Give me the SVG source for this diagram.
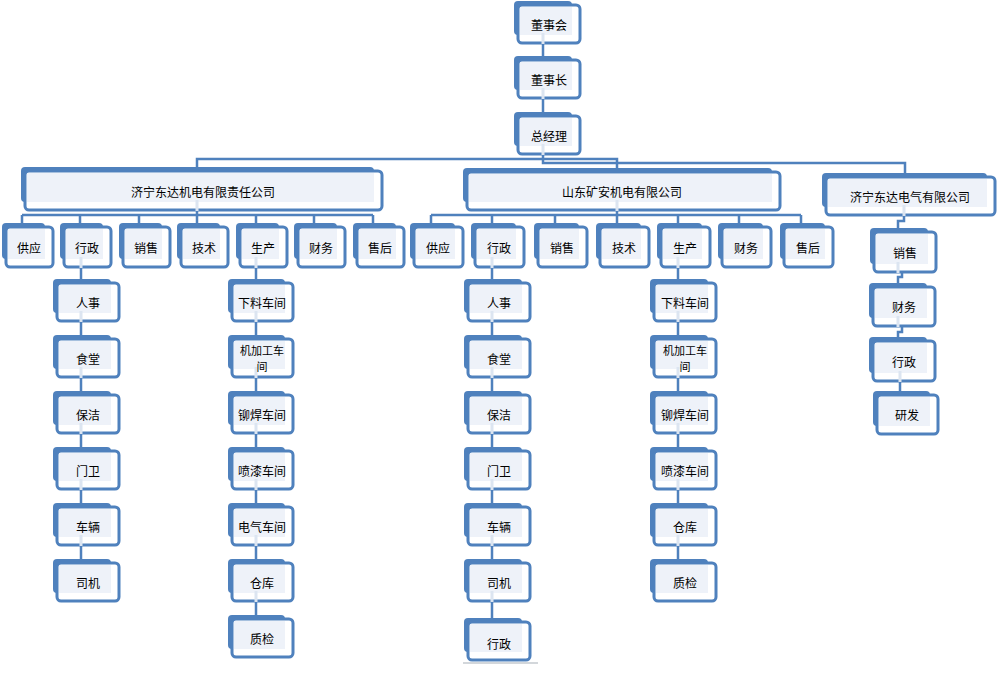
<svg xmlns="http://www.w3.org/2000/svg" width="998" height="681" viewBox="0 0 998 681">
<style>
.bk{fill:#4F81BD}
.fr{fill:#FFFFFF;stroke:#4F81BD;stroke-width:3}
.in{fill:#EEF2F9}
.gp{fill:#DCE5F1}
.t{font-family:"Noto Sans CJK SC","Liberation Sans",sans-serif;font-size:12px;fill:#000;text-anchor:middle;dominant-baseline:central}
.t2{font-size:11px}
.c{fill:none;stroke:#4F81BD;stroke-width:2.5}
</style>
<rect x="0" y="0" width="998" height="681" fill="#FFFFFF"/>
<g id="connectors">
<path class="c" d="M543,43 V56 M543,98 V112 M543,154 V163 H905 V173 M543,159 H197 V167 M543,159 H617 V168"/>
<path class="c" d="M197,210 V215 M22,215 H373 M22,215 V223 M80,215 V223 M139,215 V223 M197,215 V223 M256,215 V223 M314,215 V223 M373,215 V223"/>
<path class="c" d="M617,210 V215 M431,215 H801 M431,215 V223 M492,215 V223 M555,215 V223 M617,215 V223 M678,215 V223 M739,215 V223 M801,215 V223"/>
<path class="c" d="M81,262 V563 M256,262 V619 M492,262 V622 M678,262 V563"/>
<path class="c" d="M904,212 V221 H898 V229 M902,270 V277 H898 V283 M902,324 V332 H898 V338 M900,379 V391"/>
<path d="M463,663 H538" stroke="#D3D7DB" stroke-width="2"/>
</g>
<g id="n-dongshihui"><rect class="bk" x="514" y="1" width="58" height="34" rx="4"/><rect class="fr" x="518" y="5" width="62" height="38" rx="4"/><rect class="in" x="520" y="7" width="52" height="28"/><rect class="gp" x="541.5" y="33" width="3" height="11"/><text class="t" x="549" y="24">董事会</text></g>
<g id="n-dongshizhang"><rect class="bk" x="514" y="56" width="58" height="34" rx="4"/><rect class="fr" x="518" y="60" width="62" height="38" rx="4"/><rect class="in" x="520" y="62" width="52" height="28"/><rect class="gp" x="541.5" y="88" width="3" height="11"/><text class="t" x="549" y="79">董事长</text></g>
<g id="n-zongjingli"><rect class="bk" x="514" y="112" width="58" height="34" rx="4"/><rect class="fr" x="518" y="116" width="62" height="38" rx="4"/><rect class="in" x="520" y="118" width="52" height="28"/><rect class="gp" x="541.5" y="144" width="3" height="11"/><text class="t" x="549" y="135">总经理</text></g>
<g id="c1"><rect class="bk" x="21" y="167" width="353" height="35" rx="4"/><rect class="fr" x="25" y="171" width="357" height="39" rx="4"/><rect class="in" x="27" y="173" width="347" height="29"/><rect class="gp" x="195.5" y="200" width="3" height="11"/><text class="t" x="203" y="191">济宁东达机电有限责任公司</text></g>
<g id="c2"><rect class="bk" x="463" y="168" width="309" height="34" rx="4"/><rect class="fr" x="467" y="172" width="313" height="38" rx="4"/><rect class="in" x="469" y="174" width="303" height="28"/><rect class="gp" x="615.5" y="200" width="3" height="11"/><text class="t" x="622" y="191">山东矿安机电有限公司</text></g>
<g id="c3"><rect class="bk" x="822" y="173" width="165" height="34" rx="4"/><rect class="fr" x="826" y="177" width="169" height="38" rx="4"/><rect class="in" x="828" y="179" width="159" height="28"/><rect class="gp" x="902.5" y="205" width="3" height="11"/><text class="t" x="910" y="196">济宁东达电气有限公司</text></g>
<g id="d1-gongying"><rect class="bk" x="2" y="223" width="43" height="36" rx="4"/><rect class="fr" x="6" y="227" width="47" height="40" rx="4"/><rect class="in" x="8" y="229" width="37" height="30"/><text class="t" x="29" y="247">供应</text></g>
<g id="d1-xingzheng"><rect class="bk" x="60" y="223" width="43" height="36" rx="4"/><rect class="fr" x="64" y="227" width="47" height="40" rx="4"/><rect class="in" x="66" y="229" width="37" height="30"/><rect class="gp" x="79.5" y="257" width="3" height="11"/><text class="t" x="87" y="247">行政</text></g>
<g id="d1-xiaoshou"><rect class="bk" x="119" y="223" width="43" height="36" rx="4"/><rect class="fr" x="123" y="227" width="47" height="40" rx="4"/><rect class="in" x="125" y="229" width="37" height="30"/><text class="t" x="146" y="247">销售</text></g>
<g id="d1-jishu"><rect class="bk" x="177" y="223" width="43" height="36" rx="4"/><rect class="fr" x="181" y="227" width="47" height="40" rx="4"/><rect class="in" x="183" y="229" width="37" height="30"/><text class="t" x="204" y="247">技术</text></g>
<g id="d1-shengchan"><rect class="bk" x="236" y="223" width="43" height="36" rx="4"/><rect class="fr" x="240" y="227" width="47" height="40" rx="4"/><rect class="in" x="242" y="229" width="37" height="30"/><rect class="gp" x="254.5" y="257" width="3" height="11"/><text class="t" x="263" y="247">生产</text></g>
<g id="d1-caiwu"><rect class="bk" x="294" y="223" width="43" height="36" rx="4"/><rect class="fr" x="298" y="227" width="47" height="40" rx="4"/><rect class="in" x="300" y="229" width="37" height="30"/><text class="t" x="321" y="247">财务</text></g>
<g id="d1-shouhou"><rect class="bk" x="353" y="223" width="43" height="36" rx="4"/><rect class="fr" x="357" y="227" width="47" height="40" rx="4"/><rect class="in" x="359" y="229" width="37" height="30"/><text class="t" x="380" y="247">售后</text></g>
<g id="d2-gongying"><rect class="bk" x="410" y="223" width="45" height="36" rx="4"/><rect class="fr" x="414" y="227" width="49" height="40" rx="4"/><rect class="in" x="416" y="229" width="39" height="30"/><text class="t" x="438" y="247">供应</text></g>
<g id="d2-xingzheng"><rect class="bk" x="471" y="223" width="45" height="36" rx="4"/><rect class="fr" x="475" y="227" width="49" height="40" rx="4"/><rect class="in" x="477" y="229" width="39" height="30"/><rect class="gp" x="490.5" y="257" width="3" height="11"/><text class="t" x="499" y="247">行政</text></g>
<g id="d2-xiaoshou"><rect class="bk" x="534" y="223" width="45" height="36" rx="4"/><rect class="fr" x="538" y="227" width="49" height="40" rx="4"/><rect class="in" x="540" y="229" width="39" height="30"/><text class="t" x="562" y="247">销售</text></g>
<g id="d2-jishu"><rect class="bk" x="596" y="223" width="45" height="36" rx="4"/><rect class="fr" x="600" y="227" width="49" height="40" rx="4"/><rect class="in" x="602" y="229" width="39" height="30"/><text class="t" x="624" y="247">技术</text></g>
<g id="d2-shengchan"><rect class="bk" x="657" y="223" width="45" height="36" rx="4"/><rect class="fr" x="661" y="227" width="49" height="40" rx="4"/><rect class="in" x="663" y="229" width="39" height="30"/><rect class="gp" x="676.5" y="257" width="3" height="11"/><text class="t" x="685" y="247">生产</text></g>
<g id="d2-caiwu"><rect class="bk" x="718" y="223" width="45" height="36" rx="4"/><rect class="fr" x="722" y="227" width="49" height="40" rx="4"/><rect class="in" x="724" y="229" width="39" height="30"/><text class="t" x="746" y="247">财务</text></g>
<g id="d2-shouhou"><rect class="bk" x="780" y="223" width="45" height="36" rx="4"/><rect class="fr" x="784" y="227" width="49" height="40" rx="4"/><rect class="in" x="786" y="229" width="39" height="30"/><text class="t" x="808" y="247">售后</text></g>
<g id="s1-renshi"><rect class="bk" x="53" y="279" width="58" height="34" rx="4"/><rect class="fr" x="57" y="283" width="62" height="38" rx="4"/><rect class="in" x="59" y="285" width="52" height="28"/><rect class="gp" x="79.5" y="311" width="3" height="11"/><text class="t" x="88" y="302">人事</text></g>
<g id="s1-shitang"><rect class="bk" x="53" y="335" width="58" height="34" rx="4"/><rect class="fr" x="57" y="339" width="62" height="38" rx="4"/><rect class="in" x="59" y="341" width="52" height="28"/><rect class="gp" x="79.5" y="367" width="3" height="11"/><text class="t" x="88" y="358">食堂</text></g>
<g id="s1-baojie"><rect class="bk" x="53" y="391" width="58" height="34" rx="4"/><rect class="fr" x="57" y="395" width="62" height="38" rx="4"/><rect class="in" x="59" y="397" width="52" height="28"/><rect class="gp" x="79.5" y="423" width="3" height="11"/><text class="t" x="88" y="414">保洁</text></g>
<g id="s1-menwei"><rect class="bk" x="53" y="447" width="58" height="34" rx="4"/><rect class="fr" x="57" y="451" width="62" height="38" rx="4"/><rect class="in" x="59" y="453" width="52" height="28"/><rect class="gp" x="79.5" y="479" width="3" height="11"/><text class="t" x="88" y="470">门卫</text></g>
<g id="s1-cheliang"><rect class="bk" x="53" y="503" width="58" height="34" rx="4"/><rect class="fr" x="57" y="507" width="62" height="38" rx="4"/><rect class="in" x="59" y="509" width="52" height="28"/><rect class="gp" x="79.5" y="535" width="3" height="11"/><text class="t" x="88" y="526">车辆</text></g>
<g id="s1-siji"><rect class="bk" x="53" y="559" width="58" height="34" rx="4"/><rect class="fr" x="57" y="563" width="62" height="38" rx="4"/><rect class="in" x="59" y="565" width="52" height="28"/><text class="t" x="88" y="582">司机</text></g>
<g id="p1-xialiao"><rect class="bk" x="228" y="279" width="57" height="34" rx="4"/><rect class="fr" x="232" y="283" width="61" height="38" rx="4"/><rect class="in" x="234" y="285" width="51" height="28"/><rect class="gp" x="254.5" y="311" width="3" height="11"/><text class="t" x="262" y="302">下料车间</text></g>
<g id="p1-jijiagong"><rect class="bk" x="228" y="335" width="57" height="34" rx="4"/><rect class="fr" x="232" y="339" width="61" height="38" rx="4"/><rect class="in" x="234" y="341" width="51" height="28"/><rect class="gp" x="254.5" y="367" width="3" height="11"/><text class="t t2" x="262" y="350">机加工车</text><text class="t t2" x="262" y="366">间</text></g>
<g id="p1-maohan"><rect class="bk" x="228" y="391" width="57" height="34" rx="4"/><rect class="fr" x="232" y="395" width="61" height="38" rx="4"/><rect class="in" x="234" y="397" width="51" height="28"/><rect class="gp" x="254.5" y="423" width="3" height="11"/><text class="t" x="262" y="414">铆焊车间</text></g>
<g id="p1-penqi"><rect class="bk" x="228" y="447" width="57" height="34" rx="4"/><rect class="fr" x="232" y="451" width="61" height="38" rx="4"/><rect class="in" x="234" y="453" width="51" height="28"/><rect class="gp" x="254.5" y="479" width="3" height="11"/><text class="t" x="262" y="470">喷漆车间</text></g>
<g id="p1-dianqi"><rect class="bk" x="228" y="503" width="57" height="34" rx="4"/><rect class="fr" x="232" y="507" width="61" height="38" rx="4"/><rect class="in" x="234" y="509" width="51" height="28"/><rect class="gp" x="254.5" y="535" width="3" height="11"/><text class="t" x="262" y="526">电气车间</text></g>
<g id="p1-cangku"><rect class="bk" x="228" y="559" width="57" height="34" rx="4"/><rect class="fr" x="232" y="563" width="61" height="38" rx="4"/><rect class="in" x="234" y="565" width="51" height="28"/><rect class="gp" x="254.5" y="591" width="3" height="11"/><text class="t" x="262" y="582">仓库</text></g>
<g id="p1-zhijian"><rect class="bk" x="228" y="615" width="57" height="34" rx="4"/><rect class="fr" x="232" y="619" width="61" height="38" rx="4"/><rect class="in" x="234" y="621" width="51" height="28"/><text class="t" x="262" y="638">质检</text></g>
<g id="s2-renshi"><rect class="bk" x="464" y="279" width="58" height="34" rx="4"/><rect class="fr" x="468" y="283" width="62" height="38" rx="4"/><rect class="in" x="470" y="285" width="52" height="28"/><rect class="gp" x="490.5" y="311" width="3" height="11"/><text class="t" x="499" y="302">人事</text></g>
<g id="s2-shitang"><rect class="bk" x="464" y="335" width="58" height="34" rx="4"/><rect class="fr" x="468" y="339" width="62" height="38" rx="4"/><rect class="in" x="470" y="341" width="52" height="28"/><rect class="gp" x="490.5" y="367" width="3" height="11"/><text class="t" x="499" y="358">食堂</text></g>
<g id="s2-baojie"><rect class="bk" x="464" y="391" width="58" height="34" rx="4"/><rect class="fr" x="468" y="395" width="62" height="38" rx="4"/><rect class="in" x="470" y="397" width="52" height="28"/><rect class="gp" x="490.5" y="423" width="3" height="11"/><text class="t" x="499" y="414">保洁</text></g>
<g id="s2-menwei"><rect class="bk" x="464" y="447" width="58" height="34" rx="4"/><rect class="fr" x="468" y="451" width="62" height="38" rx="4"/><rect class="in" x="470" y="453" width="52" height="28"/><rect class="gp" x="490.5" y="479" width="3" height="11"/><text class="t" x="499" y="470">门卫</text></g>
<g id="s2-cheliang"><rect class="bk" x="464" y="503" width="58" height="34" rx="4"/><rect class="fr" x="468" y="507" width="62" height="38" rx="4"/><rect class="in" x="470" y="509" width="52" height="28"/><rect class="gp" x="490.5" y="535" width="3" height="11"/><text class="t" x="499" y="526">车辆</text></g>
<g id="s2-siji"><rect class="bk" x="464" y="559" width="58" height="34" rx="4"/><rect class="fr" x="468" y="563" width="62" height="38" rx="4"/><rect class="in" x="470" y="565" width="52" height="28"/><rect class="gp" x="490.5" y="591" width="3" height="11"/><text class="t" x="499" y="582">司机</text></g>
<g id="s2-xingzheng"><rect class="bk" x="464" y="618" width="58" height="34" rx="4"/><rect class="fr" x="468" y="622" width="62" height="38" rx="4"/><rect class="in" x="470" y="624" width="52" height="28"/><text class="t" x="499" y="643">行政</text></g>
<g id="p2-xialiao"><rect class="bk" x="650" y="279" width="58" height="34" rx="4"/><rect class="fr" x="654" y="283" width="62" height="38" rx="4"/><rect class="in" x="656" y="285" width="52" height="28"/><rect class="gp" x="676.5" y="311" width="3" height="11"/><text class="t" x="685" y="302">下料车间</text></g>
<g id="p2-jijiagong"><rect class="bk" x="650" y="335" width="58" height="34" rx="4"/><rect class="fr" x="654" y="339" width="62" height="38" rx="4"/><rect class="in" x="656" y="341" width="52" height="28"/><rect class="gp" x="676.5" y="367" width="3" height="11"/><text class="t t2" x="685" y="350">机加工车</text><text class="t t2" x="685" y="366">间</text></g>
<g id="p2-maohan"><rect class="bk" x="650" y="391" width="58" height="34" rx="4"/><rect class="fr" x="654" y="395" width="62" height="38" rx="4"/><rect class="in" x="656" y="397" width="52" height="28"/><rect class="gp" x="676.5" y="423" width="3" height="11"/><text class="t" x="685" y="414">铆焊车间</text></g>
<g id="p2-penqi"><rect class="bk" x="650" y="447" width="58" height="34" rx="4"/><rect class="fr" x="654" y="451" width="62" height="38" rx="4"/><rect class="in" x="656" y="453" width="52" height="28"/><rect class="gp" x="676.5" y="479" width="3" height="11"/><text class="t" x="685" y="470">喷漆车间</text></g>
<g id="p2-cangku"><rect class="bk" x="650" y="503" width="58" height="34" rx="4"/><rect class="fr" x="654" y="507" width="62" height="38" rx="4"/><rect class="in" x="656" y="509" width="52" height="28"/><rect class="gp" x="676.5" y="535" width="3" height="11"/><text class="t" x="685" y="526">仓库</text></g>
<g id="p2-zhijian"><rect class="bk" x="650" y="559" width="58" height="34" rx="4"/><rect class="fr" x="654" y="563" width="62" height="38" rx="4"/><rect class="in" x="656" y="565" width="52" height="28"/><text class="t" x="685" y="582">质检</text></g>
<g id="e-xiaoshou"><rect class="bk" x="870" y="228" width="58" height="36" rx="4"/><rect class="fr" x="874" y="232" width="62" height="40" rx="4"/><rect class="in" x="876" y="234" width="52" height="30"/><rect class="gp" x="896.5" y="262" width="3" height="11"/><text class="t" x="905" y="252">销售</text></g>
<g id="e-caiwu"><rect class="bk" x="869" y="283" width="58" height="35" rx="4"/><rect class="fr" x="873" y="287" width="62" height="39" rx="4"/><rect class="in" x="875" y="289" width="52" height="29"/><rect class="gp" x="896.5" y="316" width="3" height="11"/><text class="t" x="904" y="306">财务</text></g>
<g id="e-xingzheng"><rect class="bk" x="869" y="337" width="58" height="36" rx="4"/><rect class="fr" x="873" y="341" width="62" height="40" rx="4"/><rect class="in" x="875" y="343" width="52" height="30"/><rect class="gp" x="898.5" y="371" width="3" height="11"/><text class="t" x="904" y="361">行政</text></g>
<g id="e-yanfa"><rect class="bk" x="873" y="391" width="57" height="35" rx="4"/><rect class="fr" x="877" y="395" width="61" height="39" rx="4"/><rect class="in" x="879" y="397" width="51" height="29"/><text class="t" x="907" y="414">研发</text></g>
</svg>
